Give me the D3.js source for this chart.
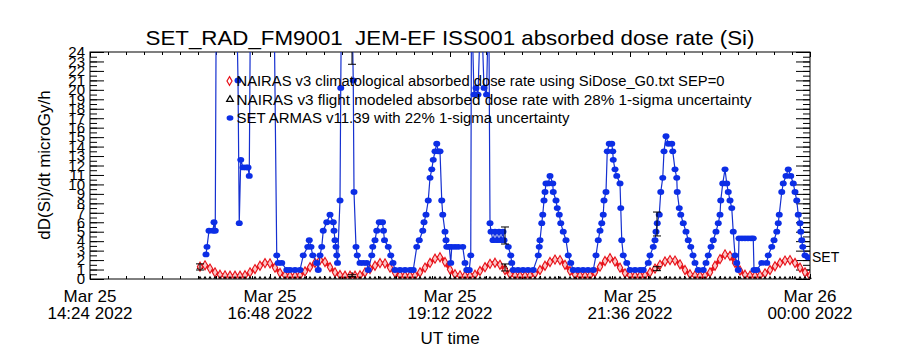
<!DOCTYPE html>
<html><head><meta charset="utf-8">
<script src="https://cdn.jsdelivr.net/npm/d3@7"></script>
<style>
html,body{margin:0;padding:0;background:#fff;}
svg{display:block;}
text{font-family:"Liberation Sans",Arial,sans-serif;fill:#000;white-space:pre;}
</style></head>
<body><svg id="chart" width="900" height="350"></svg>
<script>
// ---------------- DATA ----------------
const title = "SET_RAD_FM9001  JEM-EF ISS001 absorbed dose rate (Si)";
const yTitle = "dD(Si)/dt microGy/h";
const xTitle = "UT time";
const legendLabels = [
  "NAIRAS v3 climatological absorbed dose rate using SiDose_G0.txt SEP=0",
  "NAIRAS v3 flight modeled absorbed dose rate with 28% 1-sigma uncertainty",
  "SET ARMAS v11.39 with 22% 1-sigma uncertainty"
];
// time in minutes after 2022-03-25 00:00 UT
const xDomainMin = [864, 1440];
const xTickMin = [864, 1008, 1152, 1296, 1440];
const xTickLine1 = ["Mar 25", "Mar 25", "Mar 25", "Mar 25", "Mar 26"];
const xTickLine2 = ["14:24 2022", "16:48 2022", "19:12 2022", "21:36 2022", "00:00 2022"];
const yTicks = [0,1,2,3,4,5,6,7,8,9,10,11,12,13,14,15,16,17,18,19,20,21,22,23,24];

// NAIRAS climatological (4-minute cadence starting 15:52 UT)
const climStartMin = 952;
const climStepMin = 4;
const climVals = [
 1.3,1.45,1.1,0.7,0.45,0.38,0.35,0.35,0.35,0.4,0.7,1.05,1.4,1.68,1.65,1.2,0.65,0.4,0.35,0.35,
 0.4,0.8,1.25,1.7,2.0,1.8,1.25,0.7,0.42,0.35,0.35,0.35,0.4,0.7,1.05,1.4,1.68,1.65,1.2,0.65,
 0.4,0.35,0.35,0.38,0.7,1.2,1.7,2.15,2.3,1.8,1.0,0.5,0.38,0.35,0.35,0.45,0.85,1.25,1.6,1.72,
 1.5,0.95,0.5,0.38,0.35,0.35,0.38,0.55,0.95,1.4,1.8,2.05,2.0,1.5,0.85,0.45,0.36,0.35,0.38,0.7,
 1.3,1.9,2.2,1.85,1.2,0.6,0.4,0.35,0.35,0.4,0.7,1.1,1.5,1.85,2.0,1.95,1.55,0.95,0.5,0.38,
 0.35,0.38,0.7,1.4,2.1,2.6,2.45,1.7,0.9,0.45,0.36,0.35,0.38,0.6,0.95,1.35,1.7,1.95,2.0,1.7,
 1.2,0.7,0.35
];

// NAIRAS flight modeled: values along the track (same 4-minute cadence, read as ~0)
const flightBaseVals = [
 0,0,0,0,0,0,0,0,0,0,0,0,0,0,0,0,0,0,0,0,
 0,0,0,0,0,0,0,0,0,0,0,0,0,0,0,0,0,0,0,0,
 0,0,0,0,0,0,0,0,0,0,0,0,0,0,0,0,0,0,0,0,
 0,0,0,0,0,0,0,0,0,0,0,0,0,0,0,0,0,0,0,0,
 0,0,0,0,0,0,0,0,0,0,0,0,0,0,0,0,0,0,0,0,
 0,0,0,0,0,0,0,0,0,0,0,0,0,0,0,0,0,0,0,0,
 0,0,0
];
// NAIRAS flight modeled points with 28% error bars
const flightMin = [952, 1073.6, 1196, 1317.6];
const flightVals = [1.27, 0.35, 1.22, 1.09];
const flightLo = [0.95, 0.25, 0.85, 0.88];
const flightHi = [1.6, 0.45, 1.59, 1.3];

// SET error bars
const setErrMin = [1073.6, 1196, 1317.6];
const setErrLo = [22.7, 3.7, 4.55];
const setErrHi = [36, 5.5, 7.08];

// SET ARMAS measurements
const setMin = [
 956.8,957.6,959.2,962.4,963.2,964.2,965.0,969,973,977,981.2,982.4,983.4,984.6,986.4,988.8,990.4,991.4,992.4,996,
 1000,1004,1008,1011.2,1013.4,1014.6,1017.4,1021.4,1024,1028,1032,1034.6,1038.2,1039.4,1040.8,1042.2,1045.4,1046.6,1048,1049.4,
 1050.6,1053.4,1056,1058.6,1059.2,1060,1060.8,1061.4,1062,1064,1064.6,1065.2,1069,1073.6,1074.6,1075.2,1076.8,1077.8,1080,1082.6,
 1085.4,1086.6,1089.4,1090.2,1092,1093.4,1095.4,1098,1098.8,1099.6,1102.6,1104.6,1106.4,1108,1112,1116,1120,1122.6,1125.4,1127.4,
 1130.2,1131.2,1132.8,1134.6,1136,1137.4,1138.6,1140,1141.4,1142.6,1144,1145.4,1146.2,1148,1148.8,1149.4,1151.4,1152.6,1153.4,1156,
 1158.6,1162.2,1164,1165.4,1167.4,1168.6,1169.2,1171.2,1172.8,1174.4,1176.8,1179.2,1181.2,1183,1184,1184.8,1186.4,1188,1189.6,1191.2,
 1192.8,1194.4,1195.2,1198.6,1200.6,1201.4,1202.6,1206.4,1210.4,1214.4,1218.6,1222.6,1223.4,1224,1225.4,1226.2,1227.2,1228,1228.8,1230.6,
 1232,1234.2,1234.6,1236.8,1237.8,1239.4,1240.6,1242.6,1244.8,1246.6,1248.6,1250.6,1254.4,1258.4,1262.4,1266.6,1268.8,1270.6,1272,1273.4,
 1274.6,1275.2,1276.8,1277.8,1279.4,1281.4,1282.2,1282.6,1284,1285.4,1288,1288.6,1289.4,1290.6,1293.4,1296,1300,1304,1306.6,1310.6,
 1312,1314.6,1316,1316.8,1317.8,1319.4,1320.6,1322.2,1323.2,1324.8,1326.6,1329.4,1330.2,1332,1333.4,1333.8,1335.4,1336.6,1338.6,1340.8,
 1342.6,1344.6,1346.4,1348,1350.6,1354.6,1356.8,1358.6,1360.8,1362.6,1364.8,1366.6,1368,1368.6,1370.2,1372,1373.4,1374.6,1376,1377.4,
 1378.6,1380,1381.4,1382.6,1383.2,1385.6,1388,1390.4,1392.8,1394.6,1395.2,1397.4,1401.4,1405.4,1406.6,1409.4,1411.2,1413.4,1414.6,1415.4,
 1417.4,1418.6,1420.8,1422.6,1424.6,1426.6,1428,1429.4,1430.6,1432,1432.6,1433.4,1434.2,1436,1438.4
];
const setVal = [
 2.6,3.4,5.1,5.1,6.0,5.1,30,30,30,30,30,21.0,5.9,12.6,11.8,11.8,11.8,10.9,30,30,
 30,30,30,30,2.5,1.7,1.7,0.95,0.95,0.95,0.95,2.5,3.4,4.1,3.4,2.5,1.7,0.95,2.5,3.4,
 5.1,6.0,6.8,6.0,5.1,4.1,3.4,2.5,1.7,8.3,20.2,30,30,29,21.0,9.2,3.4,2.5,1.7,1.7,
 1.7,0.95,2.5,3.4,4.1,5.1,6.0,6.0,5.1,4.1,3.4,2.5,1.7,0.95,0.95,0.95,0.95,0.95,3.4,4.1,
 5.1,6.0,6.8,8.3,10.7,11.6,12.6,13.5,14.3,13.5,13.5,8.3,6.8,5.0,4.1,3.4,3.4,1.7,3.4,3.4,
 3.4,3.4,1.7,0.95,0.95,2.5,30,19.5,20.2,19.5,30,20.2,19.5,30,5.9,5.0,4.1,5.0,4.1,5.0,
 4.1,5.0,4.1,3.4,2.5,1.7,0.95,0.95,0.95,0.95,0.95,2.5,3.4,4.1,5.9,6.8,8.3,9.2,10.1,10.1,
 10.9,10.1,9.2,8.3,7.5,6.8,5.9,5.0,4.1,2.5,1.7,0.95,0.95,0.95,0.95,0.95,2.5,4.1,5.1,5.9,
 6.8,8.3,9.2,13.5,14.3,14.3,13.5,12.6,11.6,10.9,10.1,7.5,4.1,2.5,1.7,0.95,0.95,0.95,0.95,1.7,
 2.5,3.4,4.1,5.0,5.9,6.8,9.2,10.7,13.5,15.1,14.3,14.3,13.5,11.6,10.7,9.2,7.5,6.8,5.9,5.0,
 4.1,3.4,2.5,1.7,0.95,0.95,1.7,2.5,3.4,4.1,5.0,5.9,6.8,8.3,10.1,11.6,10.1,9.2,8.3,7.5,
 5.0,2.5,1.7,0.95,4.3,4.3,4.3,4.3,4.3,4.3,0.95,0.95,1.7,1.7,2.5,3.4,4.1,5.0,5.9,6.8,
 9.2,10.1,10.9,11.6,10.9,10.1,9.2,8.3,6.8,5.9,5.0,4.1,3.4,2.5,2.3
];
const endLabel = "SET";

// ---------------- DRAW ----------------
const svg = d3.select("#chart");
const L = 90, R = 810, T = 52, B = 279;
const x = d3.scaleLinear().domain(xDomainMin).range([L, R]);
const y = d3.scaleLinear().domain([0, 24]).range([B, T]);
const RED = "#e8121a", BLUE = "#0c2ee6", BLUEL = "#1530d0";

// title
svg.append("text").attr("x", 450).attr("y", 45).attr("text-anchor", "middle")
  .attr("font-size", 21).attr("textLength", 609).attr("lengthAdjust", "spacingAndGlyphs").text(title);

// clip
svg.append("defs").append("clipPath").attr("id", "clip")
  .append("rect").attr("x", L).attr("y", T).attr("width", R - L).attr("height", B - T);

// axes (ticks inward)
const minorX = d3.range(xDomainMin[0], xDomainMin[1] + 0.1, 14.4);
const minorY = d3.range(0, 24.01, 0.5);
function noDomain(g){ g.select(".domain").remove(); g.selectAll("line").attr("stroke","#000"); }
svg.append("g").attr("transform", `translate(0,${B})`)
  .call(d3.axisBottom(x).tickValues(minorX).tickSize(-3).tickFormat("")).call(noDomain);
svg.append("g").attr("transform", `translate(0,${B})`)
  .call(d3.axisBottom(x).tickValues(xTickMin).tickSize(-5).tickFormat("")).call(noDomain);
svg.append("g").attr("transform", `translate(0,${T})`)
  .call(d3.axisTop(x).tickValues(minorX).tickSize(-3).tickFormat("")).call(noDomain);
svg.append("g").attr("transform", `translate(0,${T})`)
  .call(d3.axisTop(x).tickValues(xTickMin).tickSize(-5).tickFormat("")).call(noDomain);
svg.append("g").attr("transform", `translate(${L},0)`)
  .call(d3.axisLeft(y).tickValues(minorY).tickSize(-7).tickFormat("")).call(noDomain);
const yAx = svg.append("g").attr("transform", `translate(${L},0)`)
  .call(d3.axisLeft(y).tickValues(yTicks).tickSize(-14).tickPadding(5).tickFormat(d3.format("d")));
noDomain(yAx);
yAx.selectAll("text").attr("font-size", 15).attr("font-family", '"Liberation Sans",Arial,sans-serif').attr("fill","#000");
svg.append("g").attr("transform", `translate(${R},0)`)
  .call(d3.axisRight(y).tickValues(minorY).tickSize(-7).tickFormat("")).call(noDomain);
svg.append("g").attr("transform", `translate(${R},0)`)
  .call(d3.axisRight(y).tickValues(yTicks).tickSize(-14).tickFormat("")).call(noDomain);

// frame
svg.append("rect").attr("x", L).attr("y", T).attr("width", R - L).attr("height", B - T)
  .attr("fill", "none").attr("stroke", "#000").attr("stroke-width", 1);

// x tick labels
const xl = svg.append("g");
xTickMin.forEach((m, i) => {
  xl.append("text").attr("x", x(m)).attr("y", 302).attr("text-anchor", "middle").attr("font-size", 17).text(xTickLine1[i]);
  xl.append("text").attr("x", x(m)).attr("y", 319).attr("text-anchor", "middle").attr("font-size", 17).text(xTickLine2[i]);
});
svg.append("text").attr("x", 450).attr("y", 344).attr("text-anchor", "middle").attr("font-size", 17).text(xTitle);
svg.append("text").attr("transform", "translate(50,165) rotate(-90)").attr("text-anchor", "middle")
  .attr("font-size", 17).text(yTitle);

// plot content
const plot = svg.append("g").attr("clip-path", "url(#clip)");

// flight modeled (triangles + error bars)
const flightPts = flightMin.map((m, i) => ({m, v: flightVals[i], lo: flightLo[i], hi: flightHi[i]}));
const flightBase = flightBaseVals.map((v, i) => ({m: climStartMin + i * climStepMin, v}));
const triSmall = d3.symbol().type(d3.symbolTriangle).size(6);
svg.append("g").selectAll("path").data(flightBase).join("path")
  .attr("d", triSmall).attr("transform", d => `translate(${x(d.m)},${y(d.v) - 1.2})`)
  .attr("fill", "#000").attr("stroke", "none");
const tri = d3.symbol().type(d3.symbolTriangle).size(14);
plot.selectAll(".ftri").data(flightPts).join("path")
  .attr("d", tri).attr("transform", d => `translate(${x(d.m)},${y(d.v)})`)
  .attr("fill", "none").attr("stroke", "#000");

// climatological red band of diamonds
const climPts = climVals.map((v, i) => ({m: climStartMin + i * climStepMin, v}));
plot.append("path").datum(climPts)
  .attr("d", d3.line().x(d => x(d.m)).y(d => y(d.v)).curve(d3.curveMonotoneX))
  .attr("fill", "none").attr("stroke", RED).attr("stroke-width", 3.5);
const dia = d3.symbol().type(d3.symbolDiamond).size(24);
plot.selectAll(".clim").data(climPts).join("path")
  .attr("d", dia).attr("transform", d => `translate(${x(d.m)},${y(d.v)})`)
  .attr("fill", "#f9c8c8").attr("stroke", RED).attr("stroke-width", 1.1);

// SET line + dots
const setPts = setMin.map((m, i) => ({m, v: setVal[i]}));
plot.append("path").datum(setPts)
  .attr("d", d3.line().x(d => x(d.m)).y(d => y(d.v)))
  .attr("fill", "none").attr("stroke", BLUEL).attr("stroke-width", 1.2);
plot.selectAll(".setdot").data(setPts).join("ellipse")
  .attr("cx", d => x(d.m)).attr("cy", d => y(d.v)).attr("rx", 3.5).attr("ry", 2.9).attr("fill", BLUE);

// error bars
function errBar(m, lo, hi) {
  const g = plot.append("g").attr("stroke", "#000").attr("stroke-width", 1);
  g.append("line").attr("x1", x(m)).attr("x2", x(m)).attr("y1", y(lo)).attr("y2", y(hi));
  g.append("line").attr("x1", x(m) - 4).attr("x2", x(m) + 4).attr("y1", y(lo)).attr("y2", y(lo));
  g.append("line").attr("x1", x(m) - 4).attr("x2", x(m) + 4).attr("y1", y(hi)).attr("y2", y(hi));
}
flightPts.forEach(d => errBar(d.m, d.lo, d.hi));
setErrMin.forEach((m, i) => errBar(m, setErrLo[i], setErrHi[i]));

// end label
const last = setPts[setPts.length - 1];
svg.append("text").attr("x", R + 2).attr("y", y(last.v) + 5).attr("font-size", 14).text(endLabel);

// legend
const legY = [81, 99.5, 118];
const legLen = [488, 515, 333];
const lg = svg.append("g");
lg.append("path").attr("d", d3.symbol().type(d3.symbolDiamond).size(22)).attr("transform", `translate(229.5,${legY[0]})`)
  .attr("fill", "#fff").attr("stroke", RED).attr("stroke-width", 1.2);
lg.append("path").attr("d", d3.symbol().type(d3.symbolTriangle).size(20)).attr("transform", `translate(230,${legY[1]})`)
  .attr("fill", "none").attr("stroke", "#000").attr("stroke-width", 1.2);
lg.append("ellipse").attr("cx", 230).attr("cy", legY[2]).attr("rx", 3.4).attr("ry", 2.8).attr("fill", BLUE);
legendLabels.forEach((t, i) => {
  lg.append("text").attr("x", 236.5).attr("y", legY[i] + 5).attr("font-size", 14)
    .attr("textLength", legLen[i]).attr("lengthAdjust", "spacingAndGlyphs").text(t);
});
</script></body></html>
